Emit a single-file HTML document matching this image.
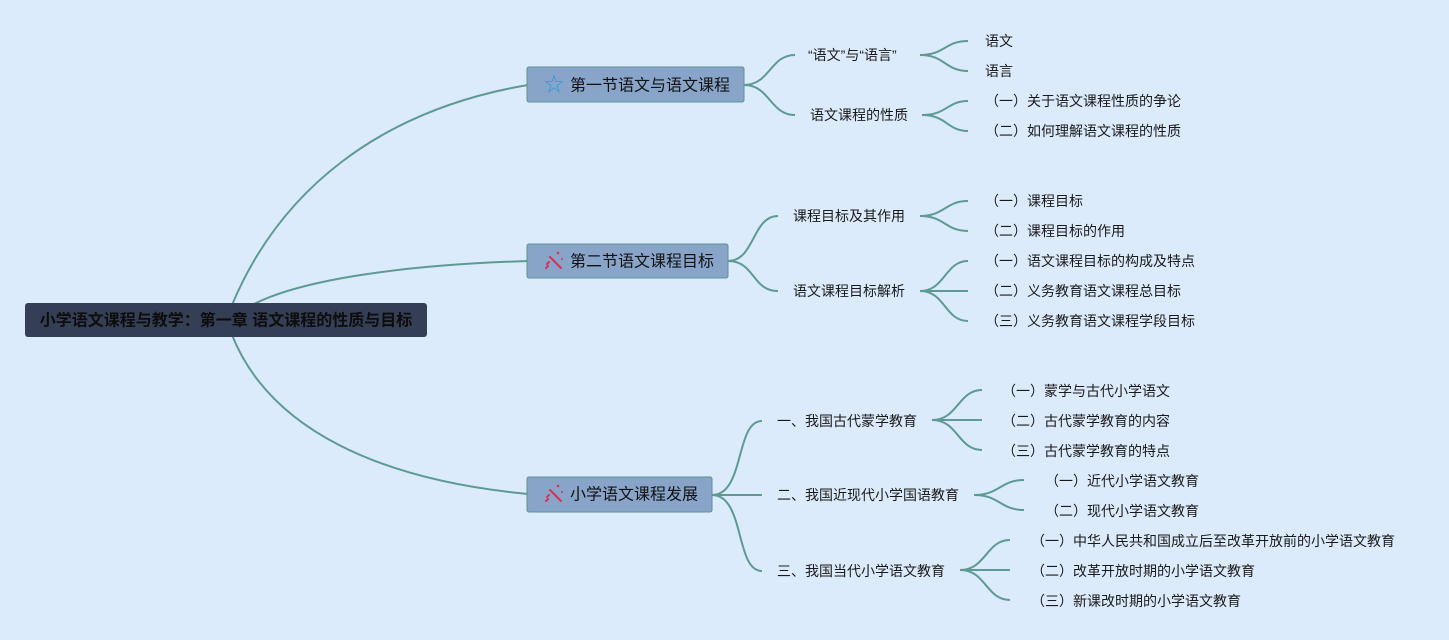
<!DOCTYPE html>
<html><head><meta charset="utf-8"><style>
html,body{margin:0;padding:0;background:#dcebfb;}
svg{display:block;font-family:"Liberation Sans","Noto Sans CJK SC",sans-serif;}
text{dominant-baseline:central;fill:#1a1a1a;font-size:14px;}
.c{fill:none;stroke:#5e9a94;stroke-width:2;}
.n{fill:#88a5c9;stroke:#5f8f92;stroke-width:1;}
.l1{font-size:16px;fill:#111;}
</style></head><body>
<svg width="1449" height="640" viewBox="0 0 1449 640">
<rect width="1449" height="640" fill="#dcebfb"/>
<path class="c" d="M232 305 C 280 190, 380 110, 528 85"/>
<path class="c" d="M252 305 C 300 280, 400 265, 528 261"/>
<path class="c" d="M232 335 C 270 430, 380 480, 528 494"/>
<rect x="25" y="303" width="402" height="34" rx="3" fill="#343f55"/>
<text x="226" y="321" text-anchor="middle" style="font-size:16px;font-weight:bold;fill:#0d0d0d">小学语文课程与教学：第一章 语文课程的性质与目标</text>

<path class="c" d="M744 85 C 770 85, 770 55, 795 55"/>
<path class="c" d="M744 85 C 770 85, 770 115, 795 115"/>
<rect class="n" x="527" y="67" width="217" height="35" rx="2"/>
<text x="554" y="85" text-anchor="middle" style="font-size:20px;fill:#2a9ad8">☆</text>
<text class="l1" x="570" y="86">第一节语文与语文课程</text>
<text x="808" y="55">“语文”与“语言”</text>
<text x="810" y="115">语文课程的性质</text>
<path class="c" d="M920 55 C 945 55, 945 41, 968 41"/>
<path class="c" d="M920 55 C 945 55, 945 71, 968 71"/>
<path class="c" d="M922 115 C 947 115, 947 101, 968 101"/>
<path class="c" d="M922 115 C 947 115, 947 131, 968 131"/>
<text x="985" y="41">语文</text>
<text x="985" y="71">语言</text>
<text x="985" y="101">（一）关于语文课程性质的争论</text>
<text x="985" y="131">（二）如何理解语文课程的性质</text>

<path class="c" d="M728 261 C 755 261, 752 216, 778 216"/>
<path class="c" d="M728 261 C 755 261, 752 291, 778 291"/>
<rect class="n" x="527" y="244" width="201" height="34" rx="2"/>
<g stroke="#d8345a" stroke-width="2.2" stroke-linecap="round"><line x1="550" y1="257" x2="561" y2="268"/><line x1="547" y1="264" x2="549" y2="262"/><line x1="546" y1="268" x2="548" y2="266"/></g>
<circle cx="558" cy="253" r="1.3" fill="#d8345a"/><circle cx="562" cy="259" r="1" fill="#d8345a"/>
<text class="l1" x="570" y="262">第二节语文课程目标</text>
<text x="793" y="216">课程目标及其作用</text>
<text x="793" y="291">语文课程目标解析</text>
<path class="c" d="M920 216 C 945 216, 945 201, 968 201"/>
<path class="c" d="M920 216 C 945 216, 945 231, 968 231"/>
<path class="c" d="M920 291 C 945 291, 945 261, 968 261"/>
<path class="c" d="M920 291 L 968 291"/>
<path class="c" d="M920 291 C 945 291, 945 321, 968 321"/>
<text x="985" y="201">（一）课程目标</text>
<text x="985" y="231">（二）课程目标的作用</text>
<text x="985" y="261">（一）语文课程目标的构成及特点</text>
<text x="985" y="291">（二）义务教育语文课程总目标</text>
<text x="985" y="321">（三）义务教育语文课程学段目标</text>

<path class="c" d="M712 495 C 745 495, 735 421, 762 421"/>
<path class="c" d="M712 495 L 762 495"/>
<path class="c" d="M712 495 C 745 495, 735 571, 762 571"/>
<rect class="n" x="527" y="477" width="185" height="35" rx="2"/>
<g stroke="#d8345a" stroke-width="2.2" stroke-linecap="round"><line x1="550" y1="490" x2="561" y2="501"/><line x1="547" y1="497" x2="549" y2="495"/><line x1="546" y1="501" x2="548" y2="499"/></g>
<circle cx="558" cy="486" r="1.3" fill="#d8345a"/><circle cx="562" cy="492" r="1" fill="#d8345a"/>
<text class="l1" x="570" y="495">小学语文课程发展</text>
<text x="777" y="421">一、我国古代蒙学教育</text>
<text x="777" y="495">二、我国近现代小学国语教育</text>
<text x="777" y="571">三、我国当代小学语文教育</text>
<path class="c" d="M932 420 C 958 420, 958 390, 982 390"/>
<path class="c" d="M932 420 L 982 420"/>
<path class="c" d="M932 420 C 958 420, 958 450, 982 450"/>
<path class="c" d="M974 495 C 1000 495, 1000 480, 1024 480"/>
<path class="c" d="M974 495 C 1000 495, 1000 510, 1024 510"/>
<path class="c" d="M960 570 C 986 570, 986 540, 1010 540"/>
<path class="c" d="M960 570 L 1010 570"/>
<path class="c" d="M960 570 C 986 570, 986 600, 1010 600"/>
<text x="1002" y="391">（一）蒙学与古代小学语文</text>
<text x="1002" y="421">（二）古代蒙学教育的内容</text>
<text x="1002" y="451">（三）古代蒙学教育的特点</text>
<text x="1045" y="481">（一）近代小学语文教育</text>
<text x="1045" y="511">（二）现代小学语文教育</text>
<text x="1031" y="541">（一）中华人民共和国成立后至改革开放前的小学语文教育</text>
<text x="1031" y="571">（二）改革开放时期的小学语文教育</text>
<text x="1031" y="601">（三）新课改时期的小学语文教育</text>
</svg>
</body></html>
